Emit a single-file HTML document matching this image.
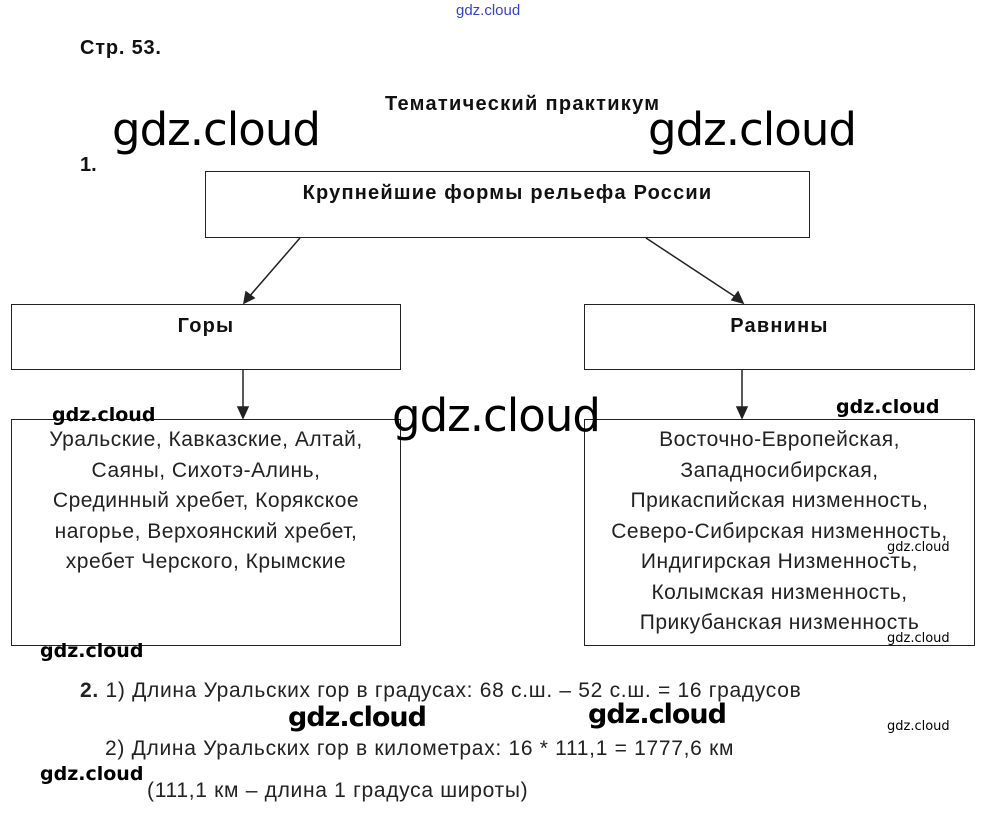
<!DOCTYPE html>
<html><head><meta charset="utf-8"><style>
body{margin:0;width:989px;height:823px;background:#fff;position:relative;overflow:hidden;font-family:"Liberation Sans",Arial,sans-serif;color:#111}
.a{position:absolute;white-space:nowrap}
.box{position:absolute;border:1px solid #222;box-sizing:border-box;background:transparent}
.b{font-weight:bold}
.wm{position:absolute;font-family:"DejaVu Sans","Liberation Sans",sans-serif;color:#000;white-space:nowrap;letter-spacing:-1px}
.big{font-size:45px}
.sm{font-size:19px;font-weight:bold;letter-spacing:0}
.xs{font-size:13px;letter-spacing:0}
.t{position:absolute;text-align:center;font-size:21px;line-height:30.5px;color:#222;letter-spacing:0.5px}
.lb{font-size:20px;letter-spacing:1.2px}
</style></head><body>
<div class="a" style="left:456px;top:2px;font-size:15px;color:#3344cc">gdz.cloud</div>
<div class="a b" style="left:80px;top:37px;font-size:20px;letter-spacing:0.8px">Стр. 53.</div>
<div class="a b" style="left:385px;top:93px;font-size:20px;letter-spacing:1.3px">Тематический практикум</div>
<div class="a b" style="left:80px;top:154px;font-size:20px">1.</div>

<div class="box" style="left:205px;top:171px;width:605px;height:67px"></div>
<div class="a b lb" style="left:205px;width:605px;text-align:center;top:182px">Крупнейшие формы рельефа России</div>

<div class="box" style="left:11px;top:304px;width:390px;height:66px"></div>
<div class="a b lb" style="left:11px;width:390px;text-align:center;top:315px">Горы</div>
<div class="box" style="left:584px;top:304px;width:391px;height:66px"></div>
<div class="a b lb" style="left:584px;width:391px;text-align:center;top:315px">Равнины</div>

<div class="box" style="left:11px;top:419px;width:390px;height:227px"></div>
<div class="t" style="left:11px;width:390px;top:425px">Уральские, Кавказские, Алтай,<br>Саяны, Сихотэ-Алинь,<br>Срединный хребет, Корякское<br>нагорье, Верхоянский хребет,<br>хребет Черского, Крымские</div>
<div class="box" style="left:584px;top:419px;width:391px;height:227px"></div>
<div class="t" style="left:584px;width:391px;top:425px">Восточно-Европейская,<br>Западносибирская,<br>Прикаспийская низменность,<br>Северо-Сибирская низменность,<br>Индигирская Низменность,<br>Колымская низменность,<br>Прикубанская низменность</div>

<svg class="a" style="left:0;top:0" width="989" height="823">
<g stroke="#222" stroke-width="1.5" fill="#222">
<line x1="300" y1="238" x2="248" y2="298"/><polygon points="244,303 246,292 254,298"/>
<line x1="646" y1="238" x2="737" y2="298"/><polygon points="743,303 732,300 738,292"/>
<line x1="243" y1="370" x2="243" y2="410"/><polygon points="243,418 238,407 248,407"/>
<line x1="742" y1="370" x2="742" y2="410"/><polygon points="742,418 737,407 747,407"/>
</g></svg>

<div class="a" style="left:80px;top:679px;font-size:21px;letter-spacing:0.7px;color:#222"><b>2.</b> 1) Длина Уральских гор в градусах: 68 с.ш. – 52 с.ш. = 16 градусов</div>
<div class="a" style="left:105px;top:737px;font-size:21px;letter-spacing:0.7px;color:#222">2) Длина Уральских гор в километрах: 16 * 111,1 = 1777,6 км</div>
<div class="a" style="left:147px;top:779px;font-size:21px;letter-spacing:0.7px;color:#222">(111,1 км – длина 1 градуса широты)</div>

<div class="wm big" style="left:112px;top:103px">gdz.cloud</div>
<div class="wm big" style="left:648px;top:103px">gdz.cloud</div>
<div class="wm big" style="left:392px;top:389px">gdz.cloud</div>
<div class="wm sm" style="left:52px;top:404px">gdz.cloud</div>
<div class="wm sm" style="left:836px;top:396px">gdz.cloud</div>
<div class="wm xs" style="left:887px;top:540px">gdz.cloud</div>
<div class="wm xs" style="left:887px;top:631px">gdz.cloud</div>
<div class="wm sm" style="left:40px;top:640px">gdz.cloud</div>
<div class="wm" style="left:288px;top:702px;font-size:27px;font-weight:bold;letter-spacing:-1px">gdz.cloud</div>
<div class="wm" style="left:588px;top:699px;font-size:27px;font-weight:bold;letter-spacing:-1px">gdz.cloud</div>
<div class="wm xs" style="left:887px;top:719px">gdz.cloud</div>
<div class="wm sm" style="left:40px;top:763px">gdz.cloud</div>
</body></html>
